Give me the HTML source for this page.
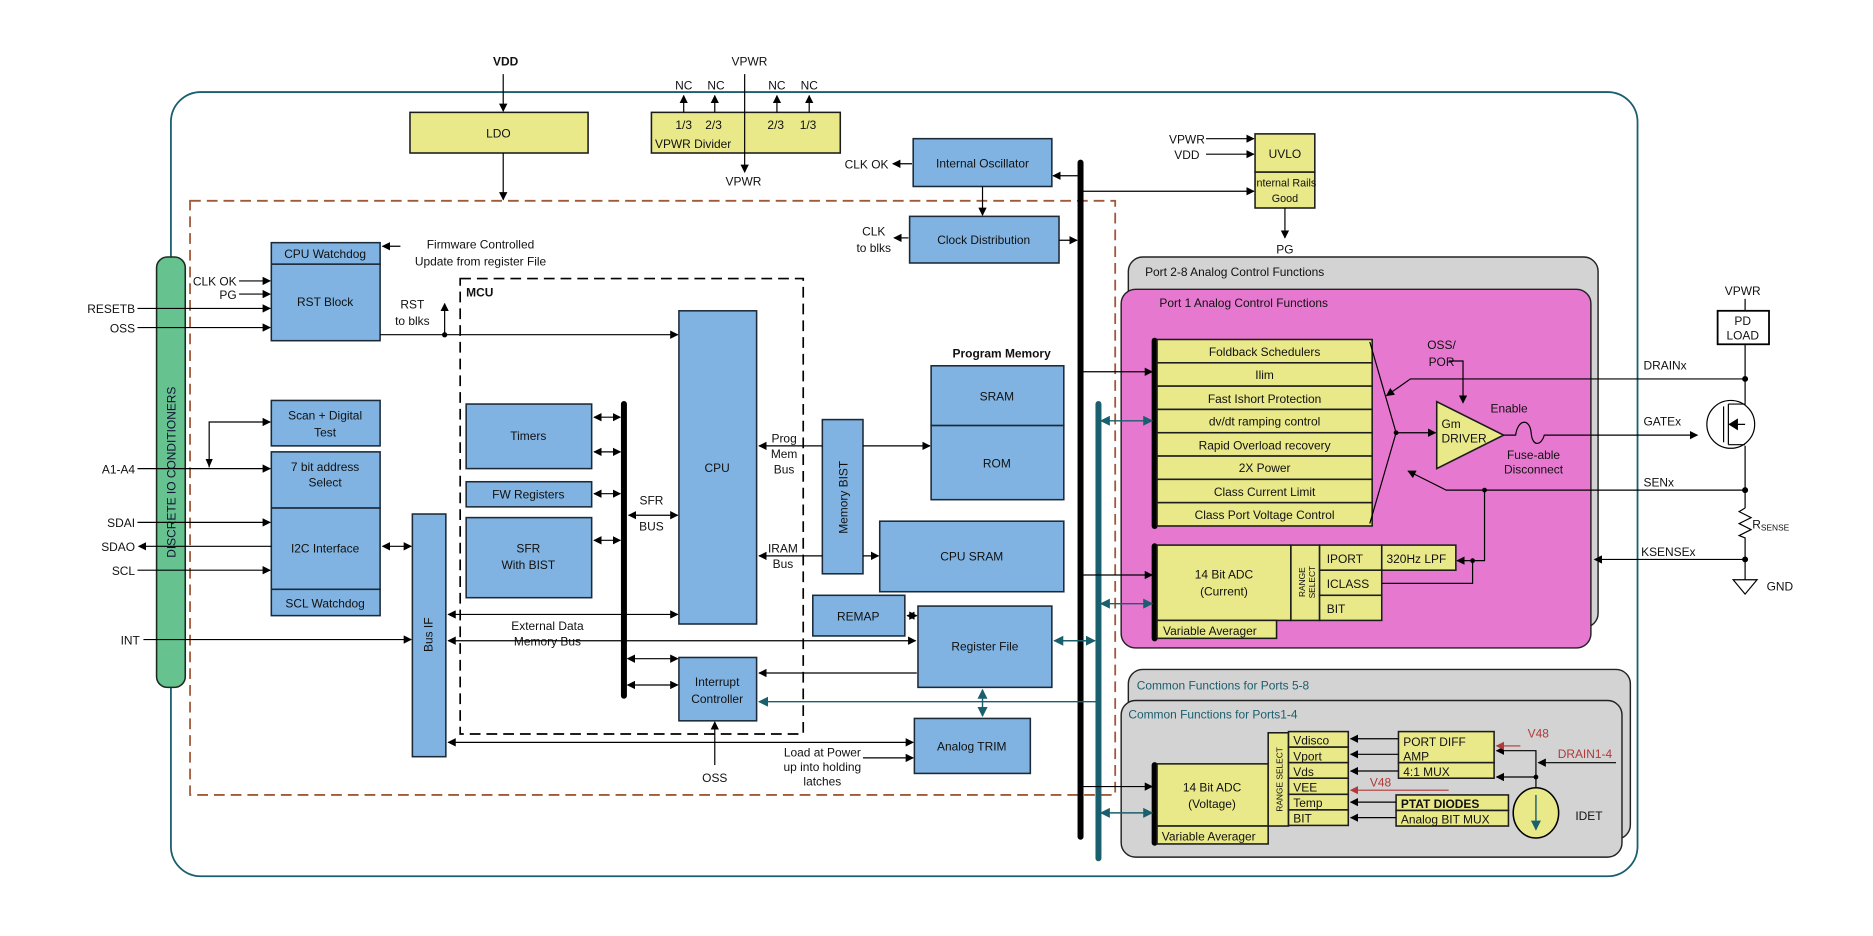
<!DOCTYPE html>
<html><head><meta charset="utf-8"><style>
html,body{margin:0;padding:0;background:#fff}
svg{display:block}
text{font-family:"Liberation Sans",Arial,sans-serif;font-size:10px;fill:#111}
.c{text-anchor:middle}
.b{fill:#80b3e1;stroke:#1c2a38;stroke-width:1.3}
.y{fill:#e9e98a;stroke:#1c1c1c;stroke-width:1.3}
.l{stroke:#000;stroke-width:1;fill:none}
.t{stroke:#1a5f6e;stroke-width:1.2;fill:none}
.r{stroke:#b03a3a;stroke-width:1;fill:none}
</style></head><body>
<svg width="1873" height="936" viewBox="0 0 1567 783" preserveAspectRatio="none" xmlns="http://www.w3.org/2000/svg">
<defs>
<marker id="a" viewBox="0 0 10 10" refX="9" refY="5" markerWidth="7" markerHeight="7" orient="auto-start-reverse"><path d="M0,0L10,5L0,10z" fill="#000"/></marker>
<marker id="at" viewBox="0 0 10 10" refX="9" refY="5" markerWidth="7" markerHeight="7" orient="auto-start-reverse"><path d="M0,0L10,5L0,10z" fill="#1a5f6e"/></marker>
<marker id="ar" viewBox="0 0 10 10" refX="9" refY="5" markerWidth="7" markerHeight="7" orient="auto-start-reverse"><path d="M0,0L10,5L0,10z" fill="#b03a3a"/></marker>
</defs>

<rect x="143" y="77" width="1227" height="656" rx="25" fill="none" stroke="#1a5f6e" stroke-width="1.5"/>

<text x="423" y="55" class="c" style="font-weight:bold">VDD</text>
<line x1="421" y1="62" x2="421" y2="93" class="l" marker-end="url(#a)"/>
<rect x="343" y="94" width="149" height="34" class="y"/>
<text x="417" y="115" class="c">LDO</text>
<line x1="421" y1="128" x2="421" y2="167" class="l" marker-end="url(#a)"/>

<rect x="545" y="94" width="158" height="34" class="y"/>
<text x="572" y="108" class="c">1/3</text><text x="597" y="108" class="c">2/3</text>
<text x="649" y="108" class="c">2/3</text><text x="676" y="108" class="c">1/3</text>
<text x="548" y="124">VPWR Divider</text>
<text x="627" y="55" class="c">VPWR</text>
<line x1="623" y1="62" x2="623" y2="144" class="l" marker-end="url(#a)"/>
<text x="622" y="155" class="c">VPWR</text>
<g class="l">
<line x1="572" y1="94" x2="572" y2="80" marker-end="url(#a)"/>
<line x1="598" y1="94" x2="598" y2="80" marker-end="url(#a)"/>
<line x1="650" y1="94" x2="650" y2="80" marker-end="url(#a)"/>
<line x1="677" y1="94" x2="677" y2="80" marker-end="url(#a)"/>
</g>
<text x="572" y="75" class="c">NC</text><text x="599" y="75" class="c">NC</text>
<text x="650" y="75" class="c">NC</text><text x="677" y="75" class="c">NC</text>

<rect x="159" y="168" width="774" height="497" fill="none" stroke="#a05a3a" stroke-width="1.5" stroke-dasharray="9,5"/>

<rect x="764" y="116" width="116" height="40" class="b"/>
<text x="822" y="140" class="c">Internal Oscillator</text>
<line x1="763" y1="137" x2="747" y2="137" class="l" marker-end="url(#a)"/>
<text x="725" y="141" class="c">CLK OK</text>
<line x1="822" y1="156" x2="822" y2="180" class="l" marker-end="url(#a)"/>
<rect x="761" y="181" width="125" height="39" class="b"/>
<text x="823" y="204" class="c">Clock Distribution</text>
<line x1="760" y1="199" x2="748" y2="199" class="l" marker-end="url(#a)"/>
<text x="731" y="197" class="c">CLK</text><text x="731" y="211" class="c">to blks</text>
<line x1="886" y1="201" x2="901" y2="201" class="l" marker-end="url(#a)"/>
<line x1="902" y1="147" x2="881" y2="147" class="l" marker-end="url(#a)"/>
<line x1="904" y1="160" x2="1049" y2="160" class="l" marker-end="url(#a)"/>

<line x1="904" y1="136" x2="904" y2="700" stroke="#000" stroke-width="5" stroke-linecap="round"/>
<line x1="919" y1="338" x2="919" y2="718" stroke="#1a5f6e" stroke-width="5" stroke-linecap="round"/>

<rect x="1050" y="112" width="50" height="32" class="y"/>
<text x="1075" y="132" class="c">UVLO</text>
<rect x="1050" y="144" width="50" height="30" class="y"/>
<text x="1075" y="156" class="c" style="font-size:9px">Internal Rails</text><text x="1075" y="169" class="c" style="font-size:9px">Good</text>
<text x="993" y="120" class="c">VPWR</text><text x="993" y="133" class="c">VDD</text>
<line x1="1009" y1="116" x2="1049" y2="116" class="l" marker-end="url(#a)"/>
<line x1="1009" y1="129" x2="1049" y2="129" class="l" marker-end="url(#a)"/>
<line x1="1075" y1="174" x2="1075" y2="199" class="l" marker-end="url(#a)"/>
<text x="1075" y="212" class="c">PG</text>

<rect x="944" y="215" width="393" height="310" rx="12" fill="#d3d3d3" stroke="#222" stroke-width="1.2"/>
<text x="958" y="231">Port 2-8 Analog Control Functions</text>
<rect x="938" y="242" width="393" height="300" rx="12" fill="#e678cf" stroke="#222" stroke-width="1.2"/>
<text x="970" y="257">Port 1 Analog Control Functions</text>
<line x1="966" y1="285" x2="966" y2="440" stroke="#000" stroke-width="5" stroke-linecap="round"/>
<g>
<rect x="968" y="284" width="180" height="19.5" class="y"/><text x="1058" y="298" class="c">Foldback Schedulers</text>
<rect x="968" y="303.5" width="180" height="19.5" class="y"/><text x="1058" y="317" class="c">Ilim</text>
<rect x="968" y="323" width="180" height="19.5" class="y"/><text x="1058" y="337" class="c">Fast Ishort Protection</text>
<rect x="968" y="342.5" width="180" height="19.5" class="y"/><text x="1058" y="356" class="c">dv/dt ramping control</text>
<rect x="968" y="362" width="180" height="19.5" class="y"/><text x="1058" y="376" class="c">Rapid Overload recovery</text>
<rect x="968" y="381.5" width="180" height="19.5" class="y"/><text x="1058" y="395" class="c">2X Power</text>
<rect x="968" y="401" width="180" height="19.5" class="y"/><text x="1058" y="415" class="c">Class Current Limit</text>
<rect x="968" y="420.5" width="180" height="19.5" class="y"/><text x="1058" y="434" class="c">Class Port Voltage Control</text>
</g>
<line x1="904" y1="311" x2="964" y2="311" class="l" marker-end="url(#a)"/>
<line x1="921" y1="352" x2="964" y2="352" class="t" marker-start="url(#at)" marker-end="url(#at)"/>
<polyline points="1146,286 1168,362 1146,438" class="l"/>
<circle cx="1168" cy="362" r="2" fill="#000"/>
<line x1="1168" y1="362" x2="1201" y2="362" class="l" marker-end="url(#a)"/>
<polygon points="1202,336 1202,392 1258,364" class="y"/>
<text x="1206" y="358">Gm</text><text x="1206" y="370">DRIVER</text>
<text x="1247" y="345">Enable</text>
<text x="1206" y="292" class="c">OSS/</text><text x="1206" y="306" class="c">POR</text>
<polyline points="1212,302 1224,302 1224,337" class="l" marker-end="url(#a)"/>
<path d="M1258,364 H1268 C1270,350 1280,350 1281,362 C1282,375 1290,372 1292,364 H1420" class="l" marker-end="url(#a)"/>
<text x="1283" y="384" class="c">Fuse-able</text><text x="1283" y="396" class="c">Disconnect</text>
<polyline points="1460,317 1180,317 1160,331" class="l" marker-end="url(#a)"/>
<polyline points="1460,410 1210,410 1178,394" class="l" marker-end="url(#a)"/>
<circle cx="1242" cy="410" r="2" fill="#000"/>
<polyline points="1242,410 1242,469 1219,469" class="l" marker-end="url(#a)"/>
<circle cx="1232" cy="469" r="2" fill="#000"/>
<polyline points="1232,469 1232,488 1150,488" class="l" marker-end="url(#a)"/>
<text x="1375" y="309">DRAINx</text><text x="1375" y="356">GATEx</text>
<text x="1375" y="407">SENx</text><text x="1373" y="465">KSENSEx</text>

<text x="1458" y="247" class="c">VPWR</text>
<line x1="1460" y1="250" x2="1460" y2="260" class="l"/>
<rect x="1437" y="260" width="43" height="28" fill="#fff" stroke="#000" stroke-width="1.5"/>
<text x="1458" y="272" class="c">PD</text><text x="1458" y="284" class="c">LOAD</text>
<line x1="1460" y1="288" x2="1460" y2="337" class="l"/>
<line x1="1460" y1="373" x2="1460" y2="425" class="l"/>
<polyline points="1460,425 1455,428 1465,433 1455,438 1465,443 1455,448 1460,450 1460,485" class="l"/>
<circle cx="1448" cy="355" r="20" fill="#fff" stroke="#000"/>
<line x1="1442" y1="340" x2="1442" y2="370" class="l"/>
<line x1="1446" y1="338" x2="1446" y2="372" class="l"/>
<polyline points="1446,338 1460,338 1460,337" class="l"/>
<polyline points="1446,372 1460,372" class="l"/>
<line x1="1446" y1="355" x2="1460" y2="355" class="l"/>
<path d="M1446,355 L1454,350 L1454,360z" fill="#000"/>
<circle cx="1460" cy="317" r="2.5" fill="#000"/><circle cx="1460" cy="410" r="2.5" fill="#000"/><circle cx="1460" cy="468" r="2.5" fill="#000"/>
<text x="1466" y="442">R<tspan font-size="7" dy="2">SENSE</tspan></text>
<line x1="1460" y1="468" x2="1334" y2="468" class="l" marker-end="url(#a)"/>
<polygon points="1450,485 1470,485 1460,497" fill="#fff" stroke="#000"/>
<text x="1478" y="494">GND</text>

<line x1="966" y1="457" x2="966" y2="534" stroke="#000" stroke-width="5" stroke-linecap="round"/>
<rect x="968" y="456" width="112" height="63" class="y"/>
<text x="1024" y="484" class="c">14 Bit ADC</text><text x="1024" y="498" class="c">(Current)</text>
<rect x="1080" y="456" width="24" height="63" class="y"/>
<text transform="translate(1092,487) rotate(-90)" class="c" style="font-size:7px">RANGE</text>
<text transform="translate(1100,487) rotate(-90)" class="c" style="font-size:7px">SELECT</text>
<rect x="1104" y="456" width="52" height="21" class="y"/><text x="1110" y="471">IPORT</text>
<rect x="1156" y="456" width="62" height="21" class="y"/><text x="1160" y="471">320Hz LPF</text>
<rect x="1104" y="477" width="52" height="21" class="y"/><text x="1110" y="492">ICLASS</text>
<rect x="1104" y="498" width="52" height="21" class="y"/><text x="1110" y="513">BIT</text>
<rect x="968" y="519" width="100" height="15" class="y"/><text x="973" y="531">Variable Averager</text>
<line x1="904" y1="481" x2="964" y2="481" class="l" marker-end="url(#a)"/>
<line x1="921" y1="505" x2="964" y2="505" class="t" marker-start="url(#at)" marker-end="url(#at)"/>

<rect x="944" y="560" width="420" height="142" rx="12" fill="#d3d3d3" stroke="#222" stroke-width="1.2"/>
<text x="951" y="577" style="fill:#1a5f6e">Common Functions for Ports 5-8</text>
<rect x="938" y="586" width="419" height="131" rx="12" fill="#d3d3d3" stroke="#222" stroke-width="1.2"/>
<text x="944" y="601" style="fill:#1a5f6e">Common Functions for Ports1-4</text>
<line x1="966" y1="640" x2="966" y2="705" stroke="#000" stroke-width="5" stroke-linecap="round"/>
<rect x="968" y="639" width="93" height="52" class="y"/>
<text x="1014" y="662" class="c">14 Bit ADC</text><text x="1014" y="676" class="c">(Voltage)</text>
<rect x="968" y="691" width="93" height="15" class="y"/><text x="972" y="703">Variable Averager</text>
<rect x="1061" y="613" width="17" height="78" class="y"/>
<text transform="translate(1073,652) rotate(-90)" class="c" style="font-size:7px">RANGE SELECT</text>
<g>
<rect x="1078" y="612" width="50" height="13" class="y"/><text x="1082" y="623">Vdisco</text>
<rect x="1078" y="625" width="50" height="13" class="y"/><text x="1082" y="636">Vport</text>
<rect x="1078" y="638" width="50" height="13" class="y"/><text x="1082" y="649">Vds</text>
<rect x="1078" y="651" width="50" height="13.5" class="y"/><text x="1082" y="662">VEE</text>
<rect x="1078" y="664.5" width="50" height="13" class="y"/><text x="1082" y="675">Temp</text>
<rect x="1078" y="677.5" width="50" height="13" class="y"/><text x="1082" y="688">BIT</text>
</g>
<rect x="1170" y="612" width="80" height="26" class="y"/>
<text x="1174" y="624">PORT DIFF</text><text x="1174" y="636">AMP</text>
<rect x="1170" y="638" width="80" height="13" class="y"/><text x="1174" y="649">4:1 MUX</text>
<rect x="1168" y="665" width="94" height="13" class="y"/><text x="1172" y="676" style="font-weight:bold">PTAT DIODES</text>
<rect x="1168" y="678" width="94" height="13" class="y"/><text x="1172" y="689">Analog BIT MUX</text>
<g class="l">
<line x1="1170" y1="618" x2="1130" y2="618" marker-end="url(#a)"/>
<line x1="1170" y1="631" x2="1130" y2="631" marker-end="url(#a)"/>
<line x1="1170" y1="645" x2="1130" y2="645" marker-end="url(#a)"/>
<line x1="1168" y1="671" x2="1130" y2="671" marker-end="url(#a)"/>
<line x1="1168" y1="684" x2="1130" y2="684" marker-end="url(#a)"/>
<polyline points="1285,661 1285,628 1252,628" marker-end="url(#a)"/>
<line x1="1285" y1="650" x2="1252" y2="650" marker-end="url(#a)"/>
<line x1="1352" y1="638" x2="1287" y2="638" marker-end="url(#a)"/>
</g>
<circle cx="1285" cy="650" r="2" fill="#000"/>
<line x1="1272" y1="624" x2="1252" y2="624" class="r" marker-end="url(#ar)"/>
<text x="1287" y="617" class="c" style="fill:#b03a3a">V48</text>
<text x="1326" y="634" class="c" style="fill:#b03a3a">DRAIN1-4</text>
<line x1="1212" y1="661" x2="1130" y2="661" class="r" marker-end="url(#ar)"/>
<text x="1155" y="658" class="c" style="fill:#b03a3a">V48</text>
<ellipse cx="1285" cy="680" rx="19" ry="21" fill="#e9e98a" stroke="#000" stroke-width="1.3"/>
<line x1="1285" y1="665" x2="1285" y2="694" class="t" stroke-width="1.5" marker-end="url(#at)"/>
<text x="1318" y="686">IDET</text>
<line x1="904" y1="658" x2="964" y2="658" class="l" marker-end="url(#a)"/>
<line x1="921" y1="680" x2="964" y2="680" class="t" marker-start="url(#at)" marker-end="url(#at)"/>

<rect x="131" y="215" width="24" height="360" rx="9" fill="#66c28f" stroke="#1c2a20" stroke-width="1.3"/>
<text transform="translate(147,395) rotate(-90)" class="c" style="font-size:10px;fill:#113">DISCRETE IO CONDITIONERS</text>

<rect x="227" y="203" width="91" height="18" class="b"/><text x="272" y="216" class="c">CPU Watchdog</text>
<rect x="227" y="221" width="91" height="64" class="b"/><text x="272" y="256" class="c">RST Block</text>
<line x1="335" y1="206" x2="320" y2="206" class="l" marker-end="url(#a)"/>
<text x="402" y="208" class="c">Firmware Controlled</text><text x="402" y="222" class="c">Update from register File</text>
<text x="198" y="239" style="text-anchor:end">CLK OK</text><text x="198" y="250" style="text-anchor:end">PG</text>
<line x1="200" y1="235" x2="226" y2="235" class="l" marker-end="url(#a)"/>
<line x1="200" y1="246" x2="226" y2="246" class="l" marker-end="url(#a)"/>
<text x="113" y="262" style="text-anchor:end">RESETB</text><text x="113" y="278" style="text-anchor:end">OSS</text>
<line x1="115" y1="258" x2="226" y2="258" class="l" marker-end="url(#a)"/>
<line x1="115" y1="274" x2="226" y2="274" class="l" marker-end="url(#a)"/>
<line x1="318" y1="280" x2="567" y2="280" class="l" marker-end="url(#a)"/>
<circle cx="372" cy="280" r="2.2" fill="#000"/>
<line x1="372" y1="280" x2="372" y2="254" class="l" marker-end="url(#a)"/>
<text x="345" y="258" class="c">RST</text><text x="345" y="272" class="c">to blks</text>

<rect x="385" y="233" width="287" height="381" fill="none" stroke="#000" stroke-width="1.4" stroke-dasharray="9,5"/>
<text x="390" y="248" style="font-weight:bold">MCU</text>

<rect x="227" y="335" width="91" height="38" class="b"/><text x="272" y="351" class="c">Scan + Digital</text><text x="272" y="365" class="c">Test</text>
<rect x="227" y="378" width="91" height="47" class="b"/><text x="272" y="394" class="c">7 bit address</text><text x="272" y="407" class="c">Select</text>
<rect x="227" y="425" width="91" height="68" class="b"/><text x="272" y="462" class="c">I2C Interface</text>
<rect x="227" y="493" width="91" height="22" class="b"/><text x="272" y="508" class="c">SCL Watchdog</text>
<text x="113" y="396" style="text-anchor:end">A1-A4</text>
<line x1="115" y1="392" x2="226" y2="392" class="l" marker-end="url(#a)"/>
<polyline points="175,391 175,353 226,353" class="l" marker-end="url(#a)"/>
<path d="M172,384 L178,384 L175,391z" fill="#000"/>
<text x="113" y="441" style="text-anchor:end">SDAI</text><text x="113" y="461" style="text-anchor:end">SDAO</text><text x="113" y="481" style="text-anchor:end">SCL</text>
<line x1="115" y1="437" x2="226" y2="437" class="l" marker-end="url(#a)"/>
<line x1="227" y1="457" x2="116" y2="457" class="l" marker-end="url(#a)"/>
<line x1="115" y1="477" x2="226" y2="477" class="l" marker-end="url(#a)"/>
<text x="117" y="539" style="text-anchor:end">INT</text>
<line x1="120" y1="535" x2="344" y2="535" class="l" marker-end="url(#a)"/>

<rect x="345" y="430" width="28" height="203" class="b"/>
<text transform="translate(362,531) rotate(-90)" class="c">Bus IF</text>
<line x1="320" y1="457" x2="344" y2="457" class="l" marker-start="url(#a)" marker-end="url(#a)"/>

<rect x="390" y="338" width="105" height="54" class="b"/><text x="442" y="368" class="c">Timers</text>
<rect x="390" y="403" width="105" height="21" class="b"/><text x="442" y="417" class="c">FW Registers</text>
<rect x="390" y="433" width="105" height="67" class="b"/><text x="442" y="462" class="c">SFR</text><text x="442" y="476" class="c">With BIST</text>
<line x1="522" y1="338" x2="522" y2="582" stroke="#000" stroke-width="5" stroke-linecap="round"/>
<g class="l">
<line x1="497" y1="349" x2="519" y2="349" marker-start="url(#a)" marker-end="url(#a)"/>
<line x1="497" y1="378" x2="519" y2="378" marker-start="url(#a)" marker-end="url(#a)"/>
<line x1="497" y1="413" x2="519" y2="413" marker-start="url(#a)" marker-end="url(#a)"/>
<line x1="497" y1="452" x2="519" y2="452" marker-start="url(#a)" marker-end="url(#a)"/>
<line x1="525" y1="551" x2="567" y2="551" marker-start="url(#a)" marker-end="url(#a)"/>
<line x1="526" y1="431" x2="567" y2="431" marker-start="url(#a)" marker-end="url(#a)"/>
</g>
<text x="545" y="422" class="c">SFR</text><text x="545" y="444" class="c">BUS</text>

<rect x="568" y="260" width="65" height="262" class="b"/><text x="600" y="395" class="c">CPU</text>
<line x1="375" y1="514" x2="567" y2="514" class="l" marker-start="url(#a)" marker-end="url(#a)"/>
<text x="458" y="527" class="c">External Data</text><text x="458" y="540" class="c">Memory Bus</text>
<line x1="375" y1="536" x2="766" y2="536" class="l" marker-start="url(#a)" marker-end="url(#a)"/>
<rect x="568" y="550" width="65" height="53" class="b"/><text x="600" y="574" class="c">Interrupt</text><text x="600" y="588" class="c">Controller</text>
<line x1="525" y1="573" x2="567" y2="573" class="l" marker-start="url(#a)" marker-end="url(#a)"/>
<line x1="767" y1="563" x2="635" y2="563" class="l" marker-end="url(#a)"/>
<line x1="917" y1="587" x2="635" y2="587" class="t" marker-end="url(#at)"/>
<line x1="598" y1="640" x2="598" y2="604" class="l" marker-end="url(#a)"/>
<text x="598" y="654" class="c">OSS</text>
<line x1="375" y1="621" x2="764" y2="621" class="l" marker-start="url(#a)" marker-end="url(#a)"/>

<rect x="765" y="601" width="97" height="46" class="b"/><text x="813" y="628" class="c">Analog TRIM</text>
<text x="688" y="633" class="c">Load at Power</text><text x="688" y="645" class="c">up into holding</text><text x="688" y="657" class="c">latches</text>
<line x1="722" y1="634" x2="764" y2="634" class="l" marker-end="url(#a)"/>
<rect x="768" y="507" width="112" height="68" class="b"/><text x="824" y="544" class="c">Register File</text>
<rect x="680" y="498" width="77" height="34" class="b"/><text x="718" y="519" class="c">REMAP</text>
<line x1="759" y1="515" x2="767" y2="515" class="l" marker-start="url(#a)" marker-end="url(#a)"/>
<line x1="882" y1="536" x2="916" y2="536" class="t" marker-start="url(#at)" marker-end="url(#at)"/>
<line x1="822" y1="577" x2="822" y2="599" class="t" marker-start="url(#at)" marker-end="url(#at)"/>

<rect x="688" y="351" width="34" height="129" class="b"/>
<text transform="translate(709,416) rotate(-90)" class="c">Memory BIST</text>
<text x="656" y="370" class="c">Prog</text><text x="656" y="383" class="c">Mem</text><text x="656" y="396" class="c">Bus</text>
<line x1="688" y1="373" x2="635" y2="373" class="l" marker-end="url(#a)"/>
<text x="655" y="462" class="c">IRAM</text><text x="655" y="475" class="c">Bus</text>
<line x1="688" y1="465" x2="635" y2="465" class="l" marker-end="url(#a)"/>
<text x="838" y="299" class="c" style="font-weight:bold">Program Memory</text>
<rect x="779" y="306" width="111" height="50" class="b"/><text x="834" y="335" class="c">SRAM</text>
<rect x="779" y="356" width="111" height="62" class="b"/><text x="834" y="391" class="c">ROM</text>
<line x1="722" y1="373" x2="778" y2="373" class="l" marker-end="url(#a)"/>
<rect x="736" y="436" width="154" height="59" class="b"/><text x="813" y="469" class="c">CPU SRAM</text>
<line x1="722" y1="465" x2="735" y2="465" class="l" marker-end="url(#a)"/>
</svg>
</body></html>
